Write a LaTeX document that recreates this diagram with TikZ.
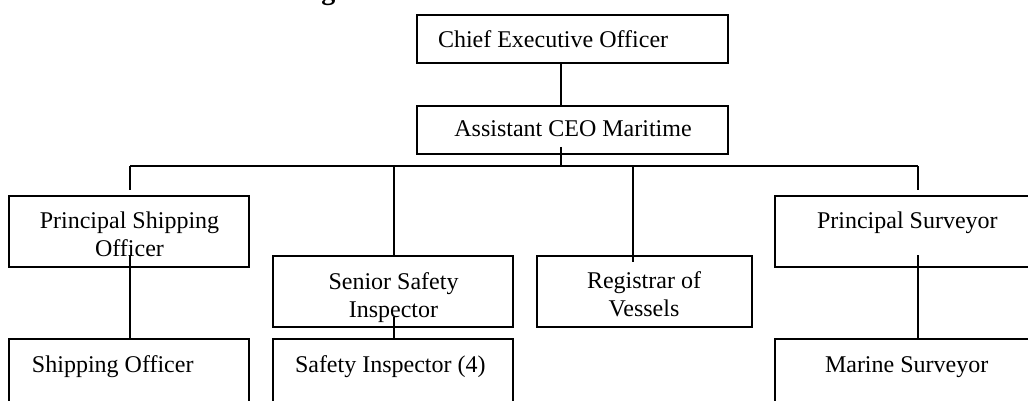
\documentclass[tikz,border=0pt]{standalone}
\usepackage{fontspec}
\setmainfont{Liberation Serif}
\usetikzlibrary{calc}
\tikzset{
  box/.style={draw, line width=0.9pt, inner sep=0pt, outer sep=0pt},
  txt/.style={inner sep=0pt, outer sep=0pt, font=\fontsize{12}{13.8}\selectfont, align=center},
  conn/.style={line width=0.9pt},
}
\begin{document}
\begin{tikzpicture}[x=0.5pt,y=-0.5pt]
\useasboundingbox (0,0) rectangle (1028,401);
\clip (0,0) rectangle (1028,401);
% partial heading glyph
\node[inner sep=0pt, anchor=base west, font=\fontsize{14}{16}\selectfont\bfseries] (head) at (321,-0.5) {g};
% boxes
\node[box, minimum width=155.5pt, minimum height=24pt] (ceo) at (572.5,39) {};
\node[box, minimum width=155.5pt, minimum height=24pt] (aceo) at (572.5,130) {};
\node[box, minimum width=120pt, minimum height=35.5pt] (pso) at (129,231.5) {};
\node[box, minimum width=120pt, minimum height=40.5pt] (so) at (129,379.5) {};
\node[box, minimum width=120pt, minimum height=35.5pt] (ssi) at (393,291.5) {};
\node[box, minimum width=120pt, minimum height=40.5pt] (si) at (393,379.5) {};
\node[box, minimum width=107.5pt, minimum height=35.5pt] (reg) at (644.5,291.5) {};
\node[box, minimum width=131pt, minimum height=35.5pt] (ps) at (906,231.5) {};
\node[box, minimum width=131pt, minimum height=40.5pt] (ms) at (906,379.5) {};
% texts
\node[txt, anchor=base west] (ceoT) at (438,48) {Chief Executive Officer};
\node[txt, anchor=base] (aceoT) at (573,137) {Assistant CEO Maritime};
\node[txt, anchor=base] (psoT) at (129.5,256) {Principal Shipping\\Officer};
\node[txt, anchor=base west] (soT) at (32,372) {Shipping Officer};
\node[txt, anchor=base] (ssiT) at (393.5,317) {Senior Safety\\Inspector};
\node[txt, anchor=base west] (siT) at (295,372) {Safety Inspector (4)};
\node[txt, anchor=base] (regT) at (644,316) {Registrar of\\Vessels};
\node[txt, anchor=base west] (psT) at (817,228) {Principal Surveyor};
\node[txt, anchor=base west] (msT) at (825,372) {Marine Surveyor};
% bus coordinates
\coordinate (spine) at (561,166);
\coordinate (b1) at (130,166);
\coordinate (b2) at (394,166);
\coordinate (b3) at (633,166);
\coordinate (b4) at (918,166);
% connectors
\draw[conn] (ceo.south -| spine) -- (aceo.north -| spine);
\draw[conn] ($(aceo.south -| spine)+(0,-7)$) -- (spine);
\draw[conn] (b1) -- (b4);
\draw[conn] (b1) -- ($(pso.north -| b1)+(0,-6)$);
\draw[conn] (b2) -- (ssi.north -| b2);
\draw[conn] (b3) -- ($(reg.north -| b3)+(0,6)$);
\draw[conn] (b4) -- ($(ps.north -| b4)+(0,-6)$);
\draw[conn] ($(pso.south -| b1)+(0,-12)$) -- (so.north -| b1);
\draw[conn] ($(ssi.south -| b2)+(0,-10)$) -- (si.north -| b2);
\draw[conn] ($(ps.south -| b4)+(0,-12)$) -- (ms.north -| b4);
\end{tikzpicture}
\end{document}
